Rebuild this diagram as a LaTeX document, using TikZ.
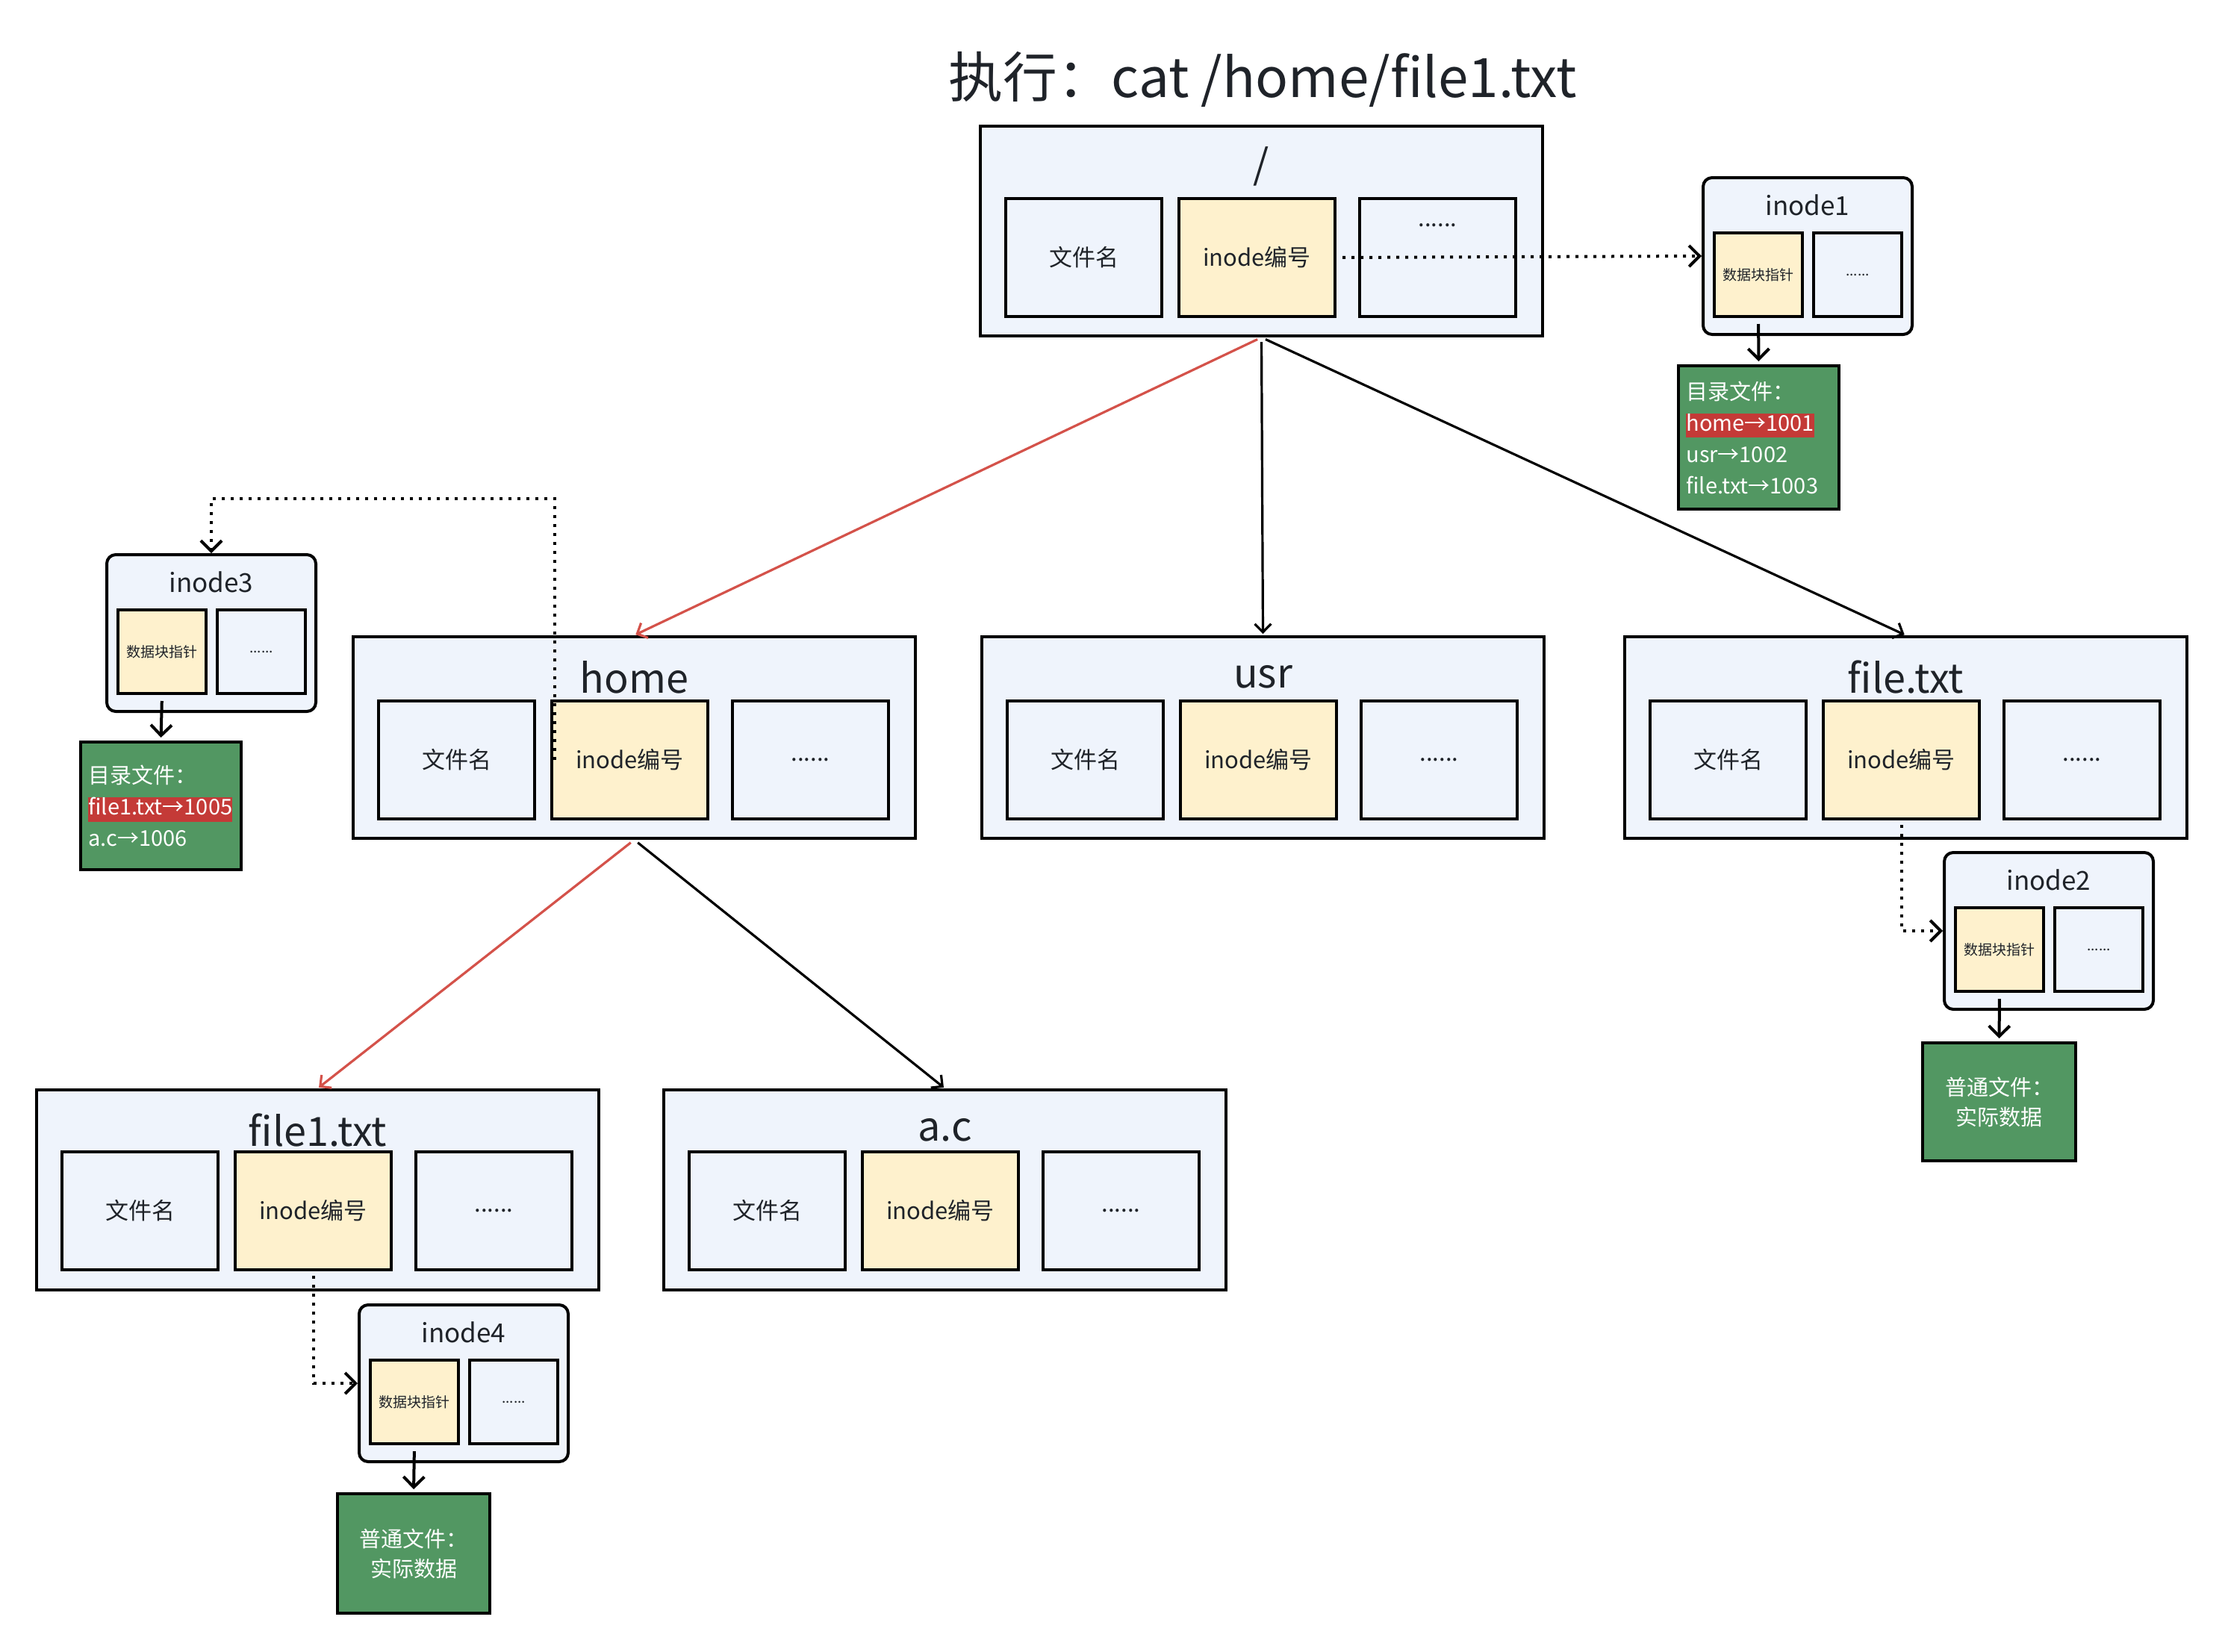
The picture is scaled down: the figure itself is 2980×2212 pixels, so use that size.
\documentclass[tikz,border=0pt]{standalone}
\usepackage{fontspec}
\setmainfont{Noto Sans CJK SC}
\usetikzlibrary{arrows.meta,calc}
\definecolor{boxfill}{HTML}{EFF4FC}
\definecolor{yel}{HTML}{FEF1CD}
\definecolor{grn}{RGB}{82,151,98}
\definecolor{hired}{RGB}{196,58,55}
\definecolor{redline}{RGB}{212,82,74}
\definecolor{txt}{HTML}{1F2329}
\tikzset{
  every node/.style={text=txt},
  dirbox/.style={draw=black, fill=boxfill, line width=2pt, minimum width=376.5pt, inner sep=0pt},
  bigl/.style={inner sep=0pt, font=\fontsize{27pt}{31pt}\selectfont},
  subbox/.style={draw=black, fill=boxfill, line width=2pt, minimum width=104.5pt, minimum height=79pt, inner sep=0pt, font=\fontsize{15.5pt}{18pt}\selectfont},
  inobox/.style={draw=black, fill=boxfill, line width=2pt, rounded corners=6pt, minimum width=140pt, minimum height=105pt, inner sep=0pt},
  inol/.style={inner sep=0pt, font=\fontsize{17.5pt}{20pt}\selectfont},
  isub/.style={draw=black, fill=boxfill, line width=2pt, minimum width=59pt, minimum height=56pt, inner sep=0pt, font=\fontsize{9.5pt}{11pt}\selectfont},
  gbox/.style={draw=black, fill=grn, line width=2pt, inner sep=0pt},
  gtext/.style={inner sep=0pt, text=white, font=\fontsize{14.5pt}{21pt}\selectfont},
  arr/.style={line width=2pt, -{Straight Barb[length=7pt,width=14pt]}},
  dotarr/.style={line width=2pt, dash pattern=on 2pt off 4pt, -{Straight Barb[length=7pt,width=14pt]}},
  diag/.style={line width=1.6pt, shorten <=3pt, shorten >=1pt, -{Straight Barb[length=5.5pt,width=11pt]}},
}
\newcommand{\hl}[1]{{\setlength{\fboxsep}{0pt}\colorbox{hired}{\rule[-4.5pt]{0pt}{15.8pt}#1}}}
\newcommand{\direntry}[7]{%
  \node[dirbox, minimum height=#4*0.5pt] (#1) at ({#2+376.5},{#3+#4/2}) {};
  \node[bigl] (#1-l) at ({#2+376.5},{#3+54}) {#5};
  \node[subbox] (#1-n) at ({#2+138.5},{#3+#6+81}) {文件名};
  \node[subbox, fill=yel] (#1-i) at ({#2+370.5},{#3+#6+81}) {inode编号};
  \node[subbox] (#1-d) at ({#2+612.5},{#3+#6+81}) {#7};
}
\newcommand{\inodebox}[4]{%
  \node[inobox] (#1) at ({#2+140},{#3+105}) {};
  \node[inol] (#1-l) at ({#2+140},{#3+37}) {#4};
  \node[isub, fill=yel] (#1-p) at ({#2+74},{#3+130}) {数据块指针};
  \node[isub] (#1-d) at ({#2+207},{#3+130}) {......};
}
\begin{document}
\begin{tikzpicture}[x=0.5pt,y=-0.5pt]
\useasboundingbox (0,0) rectangle (2980,2212);
\fill[white] (0,0) rectangle (2980,2212);
% title
\node[inner sep=0pt, font=\fontsize{36.4pt}{42pt}\selectfont] (title) at (1691,106) {执行：cat /home/file1.txt};
% directory entry boxes
\direntry{root}{1313}{169}{281}{/}{95}{}
\node[inner sep=0pt, font=\fontsize{15.5pt}{18pt}\selectfont] (root-dt) at (1925.5,302) {......};
\direntry{home}{473}{853}{270}{home}{84}{......}
\direntry{usr}{1315}{853}{270}{usr}{84}{......}
\direntry{ftxt}{2176}{853}{270}{file.txt}{84}{......}
\direntry{fone}{49}{1460}{268}{file1.txt}{81}{......}
\direntry{ac}{889}{1460}{268}{a.c}{81}{......}
% inodes
\inodebox{ino1}{2281}{238}{inode1}
\inodebox{ino2}{2604}{1142}{inode2}
\inodebox{ino3}{143}{743}{inode3}
\inodebox{ino4}{481}{1748}{inode4}
% data blocks
\node[gbox, minimum width=107.5pt, minimum height=96pt] (g1) at (2355.5,586) {};
\node[gtext, anchor=west, align=left] (g1t) at ([xshift=6pt]g1.west) {目录文件：\\\hl{home→1001}\\usr→1002\\file.txt→1003};
\node[gbox, minimum width=107.5pt, minimum height=85.5pt] (g3) at (215.5,1079.5) {};
\node[gtext, anchor=west, align=left] (g3t) at ([xshift=6pt]g3.west) {目录文件：\\\hl{file1.txt→1005}\\a.c→1006};
\node[gbox, minimum width=102.5pt, minimum height=79pt] (g2) at (2677.5,1476) {};
\node[gtext, align=center, font=\fontsize{14.5pt}{20pt}\selectfont] (g2t) at (g2) {普通文件：\\实际数据};
\node[gbox, minimum width=102pt, minimum height=80pt] (g4) at (554,2081) {};
\node[gtext, align=center, font=\fontsize{14.5pt}{20pt}\selectfont] (g4t) at (g4) {普通文件：\\实际数据};
% connectors
\draw[dotarr, shorten <=4pt] (root-i.east) -- (ino1.west);
\draw[arr, shorten <=4pt, shorten >=2pt] (ino1-p.south) -- (g1.north);
\draw[diag, draw=redline] (root.south) -- (home.north);
\draw[diag] (root.south) -- (usr.north);
\draw[diag] (root.south) -- (ftxt.north);
\draw[dotarr, shorten <=3pt] (ftxt-i.south) |- (ino2.west);
\draw[arr, shorten <=4pt, shorten >=2pt] (ino2-p.south) -- (g2.north);
\coordinate (hs) at ([xshift=3pt]home-i.west);
\coordinate (hop) at (0,668);
\draw[dotarr] (hs) -- (hs |- hop) -- (ino3.north |- hop) -- (ino3.north);
\draw[arr, shorten <=4pt, shorten >=2pt] (ino3-p.south) -- (g3.north);
\draw[diag, draw=redline] (home.south) -- (fone.north);
\draw[diag] (home.south) -- (ac.north);
\draw[dotarr, shorten <=3pt] (fone-i.south) |- (ino4.west);
\draw[arr, shorten <=4pt, shorten >=2pt] (ino4-p.south) -- (g4.north);
\end{tikzpicture}
\end{document}
